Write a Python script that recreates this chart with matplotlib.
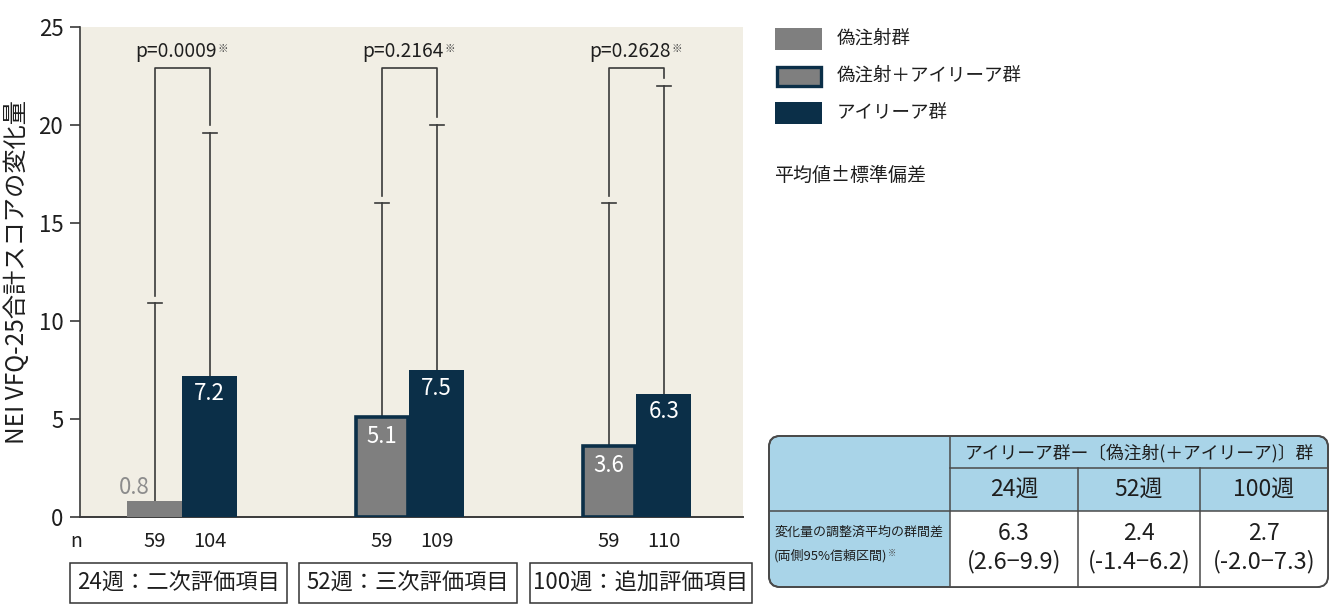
import matplotlib
matplotlib.use('Agg')
import matplotlib.pyplot as plt
import matplotlib.transforms as mtransforms
from matplotlib.patches import Rectangle, FancyBboxPatch

plt.rcParams['font.family'] = ['Noto Sans CJK JP', 'DejaVu Sans']

# data
groups = ['24週：二次評価項目', '52週：三次評価項目', '100週：追加評価項目']
sham_mean = [0.8, 5.1, 3.6]
sham_sd = [10.1, 10.9, 12.4]
sham_kind = ['sham', 'sham_plus', 'sham_plus']
eylea_mean = [7.2, 7.5, 6.3]
eylea_sd = [12.4, 12.5, 15.7]
sham_n = [59, 59, 59]
eylea_n = [104, 109, 110]
p_values = ['p=0.0009', 'p=0.2164', 'p=0.2628']
yticks = [0, 5, 10, 15, 20, 25]
ylabel = 'NEI VFQ-25合計スコアの変化量'

legend_labels = ['偽注射群', '偽注射＋アイリーア群', 'アイリーア群']
legend_kinds = ['sham', 'sham_plus', 'eylea']
note = '平均値±標準偏差'

tbl_title = 'アイリーア群ー〔偽注射(＋アイリーア)〕群'
tbl_weeks = ['24週', '52週', '100週']
tbl_diff = ['6.3', '2.4', '2.7']
tbl_ci = ['(2.6−9.9)', '(-1.4−6.2)', '(-2.0−7.3)']
tbl_row_label = ['変化量の調整済平均の群間差', '(両側95%信頼区間)']

# styles
GRAY = '#7f7f7f'
NAVY = '#0b2f48'
BEIGE = '#f1eee4'
LINE = '#3a3a3a'
TXT = '#1e1e1e'
BLUE = '#a9d4e8'
W, H = 1332, 612

fig = plt.figure(figsize=(W / 100, H / 100), dpi=100)
ax = fig.add_axes([80 / W, 1 - 517 / H, 663 / W, 490 / H])
ax.set_facecolor(BEIGE)

xs = [0, 1, 2]
off = 0.121
bw = 0.242
xsham = [x - off for x in xs]
xeyl = [x + off for x in xs]

for i in range(3):
    if sham_kind[i] == 'sham':
        ax.bar(xsham[i], sham_mean[i], bw, color=GRAY, zorder=3)
    else:
        ax.bar(xsham[i], sham_mean[i], bw - 0.014, color=GRAY, edgecolor=NAVY,
               linewidth=2.6, zorder=3)
    ax.bar(xeyl[i], eylea_mean[i], bw, color=NAVY, zorder=3)

# error bars (upper only)
cap = 0.031
for xv, m, s in zip(xsham + xeyl, sham_mean + eylea_mean, sham_sd + eylea_sd):
    ax.plot([xv, xv], [m, m + s], color=LINE, lw=1.2, zorder=2)
    ax.plot([xv - cap, xv + cap], [m + s, m + s], color=LINE, lw=1.2, zorder=2)

# brackets + p values
btop = 22.9
gap = 0.4
for i in range(3):
    t1 = sham_mean[i] + sham_sd[i] + gap
    t2 = eylea_mean[i] + eylea_sd[i] + gap
    ax.plot([xsham[i], xsham[i], xeyl[i], xeyl[i]], [t1, btop, btop, t2],
            color=LINE, lw=1.2, zorder=2)
    t = ax.text(xs[i] - 0.026, 23.75, p_values[i], ha='center', va='center',
                fontsize=13.8, color=TXT)
    ax.annotate('※', xy=(1, 0.62), xycoords=t, ha='left', va='center',
                fontsize=7.5, color='#444444')

# value labels
for i in range(3):
    if sham_mean[i] < 2:
        ax.text(xsham[i] - 0.092, 1.48, f'{sham_mean[i]:.1f}', ha='center',
                va='center', fontsize=16, color='#8c8c8c', zorder=4)
    else:
        ax.text(xsham[i], sham_mean[i] - 0.98, f'{sham_mean[i]:.1f}',
                ha='center', va='center', fontsize=16, color='white', zorder=4)
    ax.text(xeyl[i], eylea_mean[i] - 0.92, f'{eylea_mean[i]:.1f}',
            ha='center', va='center', fontsize=16, color='white', zorder=4)

ax.set_xlim(-0.45, 2.47)
ax.set_ylim(0, 25)
ax.set_xticks([])
ax.set_yticks(yticks)
ax.tick_params(axis='y', length=7, width=1.2, color=LINE, labelsize=16,
               pad=5, labelcolor=TXT)
for sp in ['top', 'right']:
    ax.spines[sp].set_visible(False)
ax.spines['left'].set_color(LINE)
ax.spines['bottom'].set_color(LINE)
ax.spines['left'].set_linewidth(1.2)
ax.spines['bottom'].set_linewidth(1.4)
ax.set_ylabel(ylabel, fontsize=17.5, color=TXT)
ax.yaxis.set_label_coords(-0.076, 0.5)

# n row below the axis
trans = mtransforms.blended_transform_factory(ax.transData, ax.transAxes)
ax.text(-0.006, -0.049, 'n', transform=ax.transAxes, ha='center',
        va='center', fontsize=14, color=TXT)
for i in range(3):
    ax.text(xsham[i], -0.049, str(sham_n[i]), transform=trans, ha='center',
            va='center', fontsize=14.5, color=TXT)
    ax.text(xeyl[i], -0.049, str(eylea_n[i]), transform=trans, ha='center',
            va='center', fontsize=14.5, color=TXT)

# overlay in pixel coordinates for group boxes, legend and table
ov = fig.add_axes([0, 0, 1, 1])
ov.set_xlim(0, W)
ov.set_ylim(H, 0)
ov.axis('off')

box_x = [(70, 287), (299, 517), (530, 752)]
for (bx0, bx1), g in zip(box_x, groups):
    ov.add_patch(Rectangle((bx0, 563), bx1 - bx0, 40, fc='white',
                           ec='#333333', lw=1.1))
    ov.text((bx0 + bx1) / 2, 583, g, ha='center', va='center',
            fontsize=16, color=TXT)

for k, (lab, kind) in enumerate(zip(legend_labels, legend_kinds)):
    yc = 39 + 37 * k
    if kind == 'sham':
        ov.add_patch(Rectangle((775, yc - 11), 47, 22, fc=GRAY, ec='none'))
    elif kind == 'sham_plus':
        ov.add_patch(Rectangle((776.5, yc - 9.5), 44, 19, fc=GRAY, ec=NAVY,
                               lw=2.4))
    else:
        ov.add_patch(Rectangle((775, yc - 11), 47, 22, fc=NAVY, ec='none'))
    ov.text(837, yc, lab, ha='left', va='center', fontsize=13.3, color=TXT)
ov.text(774, 175, note, ha='left', va='center', fontsize=13.7, color=TXT)

# table
tx0, tx1, ty0, ty1 = 769, 1328, 436, 587
cx = [950, 1078, 1200, 1328]
ry = [468, 511]
box = FancyBboxPatch((tx0, ty0), tx1 - tx0, ty1 - ty0,
                     boxstyle='round,pad=0,rounding_size=11', fc=BLUE,
                     ec='#4a4a4a', lw=1.3, zorder=1)
ov.add_patch(box)
white = Rectangle((cx[0], ry[1]), tx1 - cx[0], ty1 - ry[1], fc='white',
                  ec='none', zorder=2)
ov.add_patch(white)
white.set_clip_path(box)
edge = FancyBboxPatch((tx0, ty0), tx1 - tx0, ty1 - ty0,
                      boxstyle='round,pad=0,rounding_size=11', fc='none',
                      ec='#4a4a4a', lw=1.3, zorder=4)
ov.add_patch(edge)
ov.plot([cx[0], cx[0]], [ty0, ty1], color='#4a4a4a', lw=1.1, zorder=3)
for xv in cx[1:3]:
    ov.plot([xv, xv], [ry[0], ty1], color='#4a4a4a', lw=1.1, zorder=3)
ov.plot([cx[0], tx1], [ry[0], ry[0]], color='#4a4a4a', lw=1.1, zorder=3)
ov.plot([tx0, tx1], [ry[1], ry[1]], color='#4a4a4a', lw=1.1, zorder=3)

ov.text((cx[0] + tx1) / 2, (ty0 + ry[0]) / 2 + 1, tbl_title, ha='center',
        va='center', fontsize=12.8, color=TXT, zorder=5)
for j in range(3):
    xc = (cx[j] + cx[j + 1]) / 2
    ov.text(xc, (ry[0] + ry[1]) / 2 + 1, tbl_weeks[j], ha='center',
            va='center', fontsize=16.5, color=TXT, zorder=5)
    ov.text(xc, 533, tbl_diff[j], ha='center', va='center', fontsize=16.5,
            color=TXT, zorder=5)
    ov.text(xc, 562, tbl_ci[j], ha='center', va='center', fontsize=17,
            color=TXT, zorder=5)
ov.text(774, 532, tbl_row_label[0], ha='left', va='center', fontsize=9.4,
        color=TXT, zorder=5)
rl = ov.text(774, 556, tbl_row_label[1], ha='left', va='center',
             fontsize=9.4, color=TXT, zorder=5)
ov.annotate('※', xy=(1, 0.7), xycoords=rl, ha='left', va='center',
            fontsize=6, color='#444444', zorder=5)

fig.savefig('out.png', dpi=100, facecolor='white')
